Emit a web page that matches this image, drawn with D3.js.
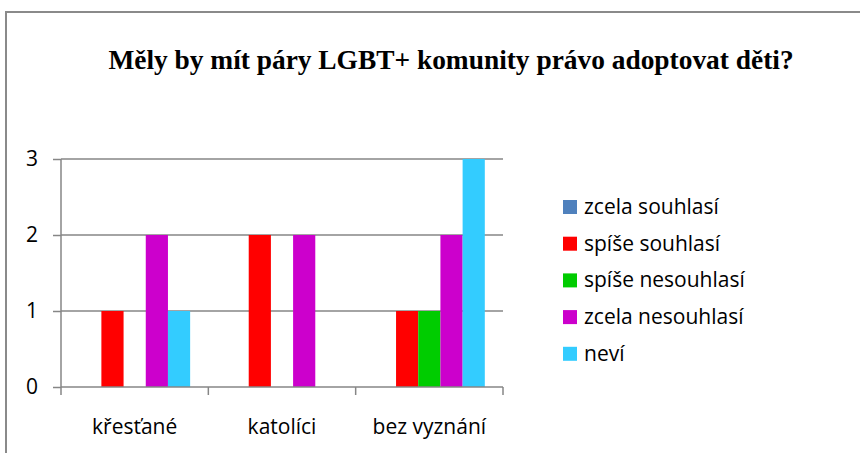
<!DOCTYPE html>
<html>
<head>
<meta charset="utf-8">
<script src="https://cdn.jsdelivr.net/npm/d3@7"></script>
<style>
  body { margin: 0; background: #fff; }
  svg { display: block; }
</style>
</head>
<body>
<script>
let categories = ["křesťané", "katolíci", "bez vyznání"];
let seriesNames = ["zcela souhlasí", "spíše souhlasí", "spíše nesouhlasí", "zcela nesouhlasí", "neví"];
let zcelaSouhlasi = [0, 0, 0];
let spiseSouhlasi = [1, 2, 1];
let spiseNesouhlasi = [0, 0, 1];
let zcelaNesouhlasi = [2, 2, 2];
let nevi = [1, 0, 3];
let yTicks = [0, 1, 2, 3];
let title = "Měly by mít páry LGBT+ komunity právo adoptovat děti?";

let w = 860;
let h = 453;
let colors = ["#4F81BD", "#FF0000", "#00CC00", "#CC00CC", "#33CCFF"];
let seriesValues = [zcelaSouhlasi, spiseSouhlasi, spiseNesouhlasi, zcelaNesouhlasi, nevi];
let labelFont = "'Open Sans', Lato, sans-serif";
let labelSize = "21px";

let svg = d3.select("body")
  .append("svg")
  .attr("width", w)
  .attr("height", h);

// chart frame
svg.append("rect")
  .attr("x", 6)
  .attr("y", 12)
  .attr("width", 900)
  .attr("height", 500)
  .attr("fill", "#fff")
  .attr("stroke", "#8a8a8a")
  .attr("stroke-width", 2);

svg.append("text")
  .attr("x", 451)
  .attr("y", 69)
  .attr("text-anchor", "middle")
  .style("font-family", "'Liberation Serif', 'Times New Roman', serif")
  .style("font-weight", "bold")
  .style("font-size", "27.4px")
  .text(title);

let xScale = d3.scaleBand()
  .domain(categories)
  .range([61, 503]);

let innerScale = d3.scaleBand()
  .domain(seriesNames)
  .range([0, xScale.bandwidth()])
  .paddingOuter(0.82);

let yScale = d3.scaleLinear()
  .domain([0, 3])
  .range([387, 159]);

// gridlines
svg.append("g")
  .selectAll("line")
  .data(yTicks.slice(1))
  .enter()
  .append("line")
  .attr("x1", 61)
  .attr("x2", 503)
  .attr("y1", (d) => yScale(d))
  .attr("y2", (d) => yScale(d))
  .attr("stroke", "#868686")
  .attr("stroke-width", 1.5);

// bars
seriesValues.forEach((vals, s) => {
  svg.append("g")
    .selectAll("rect")
    .data(vals)
    .enter()
    .append("rect")
    .attr("x", (d, i) => xScale(categories[i]) + innerScale(seriesNames[s]))
    .attr("y", (d) => yScale(d))
    .attr("width", innerScale.bandwidth())
    .attr("height", (d) => yScale(0) - yScale(d))
    .attr("fill", colors[s]);
});

let yAxis = d3.axisLeft(yScale)
  .tickValues(yTicks)
  .tickSize(8)
  .tickPadding(15)
  .tickFormat(d3.format("d"));

let gy = svg.append("g")
  .attr("transform", "translate(61,0)")
  .call(yAxis);

let xAxis = d3.axisBottom(xScale)
  .tickSize(0)
  .tickPadding(32);

let gx = svg.append("g")
  .attr("transform", "translate(0,387)")
  .call(xAxis);

// category boundary ticks
let edges = categories.map((c) => xScale(c)).concat([xScale.range()[1]]);
svg.append("g")
  .selectAll("line")
  .data(edges)
  .enter()
  .append("line")
  .attr("x1", (d) => d)
  .attr("x2", (d) => d)
  .attr("y1", 387)
  .attr("y2", 395)
  .attr("stroke", "#868686")
  .attr("stroke-width", 1.5);

[gx, gy].forEach((g) => {
  g.selectAll("path.domain").attr("stroke", "#868686").attr("stroke-width", 1.5);
  g.selectAll(".tick line").attr("stroke", "#868686").attr("stroke-width", 1.5);
  g.selectAll(".tick text")
    .attr("fill", "#000")
    .style("font-family", labelFont)
    .style("font-size", labelSize);
});
gx.select("path.domain").attr("d", "M61,0H503");
gy.select("path.domain").attr("d", "M0,387V159");

// legend
let legend = svg.append("g")
  .selectAll("g")
  .data(seriesNames)
  .enter()
  .append("g")
  .attr("transform", (d, i) => "translate(563," + (200 + i * 36.7) + ")");

legend.append("rect")
  .attr("width", 14)
  .attr("height", 14)
  .attr("fill", (d, i) => colors[i]);

legend.append("text")
  .attr("x", 21)
  .attr("y", 14)
  .style("font-family", labelFont)
  .style("font-size", labelSize)
  .text((d) => d);
</script>
</body>
</html>
